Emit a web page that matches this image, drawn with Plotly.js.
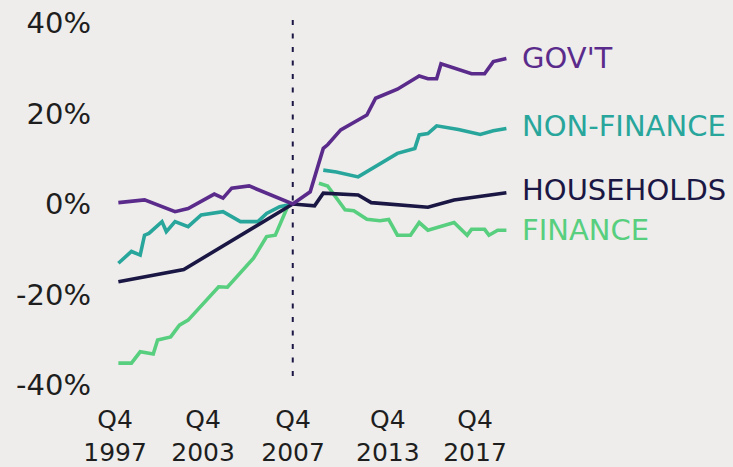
<!DOCTYPE html>
<html>
<head>
<meta charset="utf-8">
<script src="https://cdn.plot.ly/plotly-3.0.1.min.js"></script>
<style>
  html, body { margin: 0; padding: 0; background: #eeedeb; }
  #chart { width: 733px; height: 467px; }
</style>
</head>
<body>
<div id="chart"></div>
<script>
// Series names
const seriesNames = ["GOV'T", "NON-FINANCE", "HOUSEHOLDS", "FINANCE"];

// x in decimal years, values in % change vs Q4 2007
const govX = [1997.75, 1999.25, 2001.0, 2001.75, 2003.25, 2003.75, 2004.25, 2005.25, 2007.75,
              2008.75, 2009.5, 2009.75, 2010.5, 2012.0, 2012.5, 2013.75, 2015.0, 2015.5, 2016.0,
              2016.25, 2018.0, 2018.75, 2019.25, 2020.0];
const govY = [0.3, 0.9, -1.7, -1.0, 2.2, 1.3, 3.5, 4.0, 0,
              2.7, 12.3, 13.1, 16.4, 19.7, 23.4, 25.4, 28.3, 27.7, 27.7,
              31.0, 28.8, 28.8, 31.5, 32.2];

const nonFinX = [1997.75, 1998.5, 1999.0, 1999.25, 1999.5, 2000.25, 2000.5, 2001.0, 2001.75,
                 2002.5, 2003.75, 2004.75, 2005.75, 2006.25, 2007.0, 2007.75, 2008.25,
                 2009.5, 2010.25, 2011.5, 2013.75, 2014.75, 2015.0, 2015.5, 2016.0, 2017.25,
                 2018.5, 2019.25, 2020.0];
const nonFinY = [-13.1, -10.5, -11.3, -6.9, -6.5, -3.9, -6.1, -3.9, -5.0,
                 -2.4, -1.7, -3.9, -3.9, -2.1, -0.6, 0, null,
                 7.5, 7.1, 6.0, 11.2, 12.3, 15.3, 15.6, 17.3, 16.5,
                 15.4, 16.2, 16.7];

const houseX = [1997.75, 2001.5, 2007.75, 2009.0, 2009.5, 2011.5, 2012.25, 2015.5, 2017.0, 2020.0];
const houseY = [-17.2, -14.5, 0, -0.4, 2.4, 2.0, 0.3, -0.7, 0.9, 2.5];

const finX = [1997.75, 1998.5, 1999.0, 1999.75, 2000.0, 2000.75, 2001.25, 2001.75, 2003.5,
              2004.0, 2005.5, 2006.25, 2006.75, 2007.5, 2007.75, 2008.25,
              2009.25, 2009.75, 2010.75, 2011.25, 2012.0, 2012.75, 2013.25, 2013.75, 2014.5,
              2015.0, 2015.5, 2017.0, 2017.75, 2018.0, 2018.75, 2019.0, 2019.5, 2020.0];
const finY = [-35.2, -35.2, -32.7, -33.2, -30.1, -29.4, -26.8, -25.7, -18.3,
              -18.4, -12.0, -7.2, -6.9, -0.2, 0, null,
              4.6, 4.0, -1.3, -1.5, -3.4, -3.7, -3.4, -6.9, -6.9,
              -4.1, -5.8, -4.1, -6.9, -5.6, -5.6, -6.9, -5.8, -5.8];

// Axis ticks
const yTickVals = [-40, -20, 0, 20, 40];
const yTickText = ["-40%", "-20%", "0%", "20%", "40%"];
const xTickVals = [1997.56, 2002.61, 2007.77, 2013.2, 2018.2];
const xTickText = ["Q4<br>1997", "Q4<br>2003", "Q4<br>2007", "Q4<br>2013", "Q4<br>2017"];

const refLineX = 2007.75;
const labelY = [32.2, 17.2, 3.1, -5.7];

const colors = ["#5b2b8c", "#28a69c", "#1b1744", "#58cf7e"];
const xs = [govX, nonFinX, houseX, finX];
const ys = [govY, nonFinY, houseY, finY];

const drawOrder = [3, 1, 2, 0];
const traces = drawOrder.map(i => ({
  type: 'scatter', mode: 'lines', x: xs[i], y: ys[i], name: seriesNames[i],
  line: { color: colors[i], width: 3.6 }, connectgaps: false, hoverinfo: 'skip'
}));

const annotations = seriesNames.map((n, i) => ({
  xref: 'paper', yref: 'y', x: 1.0, y: labelY[i], xanchor: 'left', yanchor: 'middle',
  text: n, showarrow: false, font: { family: 'DejaVu Sans', size: 29, color: colors[i] }
}));

const tickColor = '#1e1e1e';

const layout = {
  width: 733, height: 467,
  margin: { l: 95, r: 213, t: 10, b: 67 },
  paper_bgcolor: '#eeedeb', plot_bgcolor: '#eeedeb',
  showlegend: false,
  font: { family: 'DejaVu Sans', color: tickColor },
  xaxis: {
    range: [1996.41, 2020.78], showgrid: false, zeroline: false, showline: false,
    tickmode: 'array', tickvals: xTickVals, ticktext: xTickText, ticks: '',
    ticklabelstandoff: 2,
    tickfont: { size: 25, color: tickColor }
  },
  yaxis: {
    range: [-43.36, 42.92], showgrid: false, zeroline: false, showline: false,
    tickmode: 'array', tickvals: yTickVals, ticktext: yTickText, ticks: '',
    ticklabelstandoff: 3,
    tickfont: { size: 29, color: tickColor }
  },
  shapes: [{
    type: 'line', xref: 'x', yref: 'y', x0: refLineX, x1: refLineX, y0: 40.7, y1: -39.6,
    line: { color: '#1b1744', width: 2, dash: '5px,8.5px' }
  }],
  annotations: annotations
};

Plotly.newPlot('chart', traces, layout, { displayModeBar: false, staticPlot: true });
</script>
</body>
</html>
